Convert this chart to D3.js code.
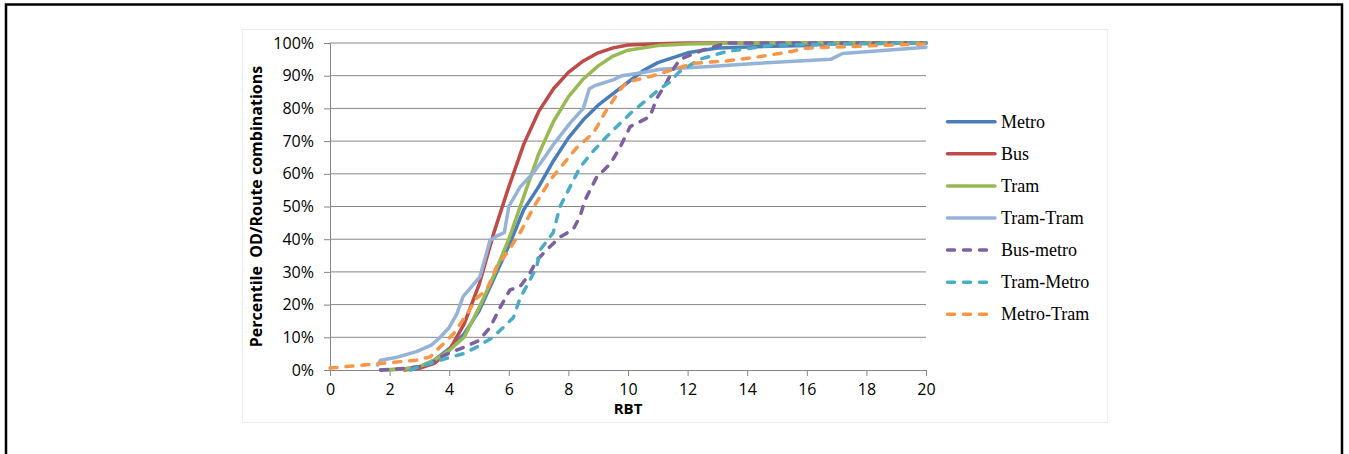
<!DOCTYPE html>
<html>
<head>
<meta charset="utf-8">
<script src="https://cdn.jsdelivr.net/npm/d3@7"></script>
<style>
  body { margin: 0; background: #fff; }
  svg { display: block; }
</style>
</head>
<body>
<div id="chart"></div>
<script>
// series names, in drawing order
const seriesNames = ['Metro', 'Bus', 'Tram', 'Tram-Tram', 'Bus-metro', 'Tram-Metro', 'Metro-Tram'];
const seriesColors = ['#4a7ebb', '#be4b48', '#98b954', '#95b3d7', '#7d60a0', '#4bacc6', '#f79646'];
const seriesDashed = [false, false, false, false, true, true, true];

// [RBT, percentile %]
const metro = [[1.7,0],[2.5,0.3],[3,1],[3.5,3],[4,6.5],[4.5,11],[5,18],[5.5,28],[6,38],[6.5,49],[7,56],[7.5,64],[8,71],[8.5,76.5],[9,81],[9.5,84.5],[10,88],[10.5,91.5],[11,94],[12,97],[13,98.5],[14,98.8],[16,99.2],[17,100],[20,100]];
const bus = [[2.5,0],[3,0.5],[3.5,2],[4,6],[4.5,14],[5,26],[5.5,42],[6,56],[6.5,69],[7,79],[7.5,86],[8,91],[8.5,94.5],[9,97],[9.5,98.5],[10,99.4],[11,99.8],[12,100],[20,100]];
const tram = [[1.9,0],[2.5,0.3],[3,1],[3.5,3],[4,6],[4.5,10],[5,19],[5.5,29],[6,40],[6.5,53],[7,66],[7.5,76],[8,83.5],[8.5,89],[9,93],[9.5,96],[10,97.8],[11,99.2],[12,99.7],[14,100],[20,100]];
const tramTram = [[1.6,1.5],[1.7,3],[2.2,3.8],[2.9,5.6],[3.4,7.6],[3.7,10],[4,13],[4.25,17],[4.47,22.5],[4.8,26],[5.03,28.5],[5.2,34],[5.37,39.7],[5.6,41],[5.85,42],[6,50],[6.38,56],[6.8,60],[7.2,65],[7.5,69],[8.05,75.4],[8.5,80],[8.7,86],[8.9,87],[9.5,88.7],[9.8,90],[10.5,91],[11.1,92],[12.75,92.8],[14.4,93.8],[16.8,95],[17.2,96.8],[20,98.7]];
const busMetro = [[1.7,0],[2.5,0.5],[3,1],[3.4,2],[3.7,4],[4.5,7],[5,9],[5.37,13],[5.7,19],[6.04,24.5],[6.38,25.5],[6.71,29.6],[6.94,33.6],[7.27,36.7],[7.72,40.7],[8.16,43],[8.39,47],[8.56,52],[8.95,59],[9.4,63],[9.73,68],[10.07,74.4],[10.74,77.5],[10.96,83],[11.3,88],[11.52,92],[11.74,95],[12.5,97.8],[13.3,100],[20,100]];
const tramMetro = [[2.7,0],[3,1],[3.36,2],[3.69,3],[4.47,5],[4.92,7],[5.47,10],[5.81,13],[6.15,16],[6.38,22],[6.71,27.5],[6.94,31.6],[7.05,36.7],[7.49,42],[7.72,50],[8.39,62],[8.84,67],[9.28,71.3],[9.62,74.4],[10.2,79.5],[10.63,82.6],[11.07,86],[11.4,88],[11.7,91],[12.4,95],[13.3,97.4],[14.9,99.4],[20,100]];
const metroTram = [[0,0.6],[1.7,2],[2.9,3],[3.36,4],[3.69,7],[4.14,11],[4.59,17],[4.92,22],[5.26,24.5],[5.59,31.6],[5.93,35.7],[6.38,42],[6.85,50],[7.38,58],[7.83,63],[8.28,68],[8.84,72.5],[9.28,79.5],[9.73,85.6],[9.95,88],[10.84,90],[11.63,92.2],[12.2,93.8],[13.3,94.5],[14.4,95.8],[15.5,97.4],[15.9,98.4],[17,98.8],[20,99.7]];
const seriesData = [metro, bus, tram, tramTram, busMetro, tramMetro, metroTram];

const xTicks = [0, 2, 4, 6, 8, 10, 12, 14, 16, 18, 20];
const yTicks = [0, 10, 20, 30, 40, 50, 60, 70, 80, 90, 100];

const width = 1349;
const height = 454;
const margin = { left: 330, right: 423, top: 43, bottom: 84 };

const svg = d3.select('#chart')
    .append('svg')
    .attr('width', width)
    .attr('height', height);

// outer black frame (bottom edge is off the picture)
svg.append('rect')
    .attr('x', 6).attr('y', 4.5)
    .attr('width', 1336).attr('height', 470)
    .attr('fill', 'none')
    .attr('stroke', '#000')
    .attr('stroke-width', 2.5);

// chart area border
svg.append('rect')
    .attr('x', 242.5).attr('y', 29.5)
    .attr('width', 865).attr('height', 393)
    .attr('fill', '#fff')
    .attr('stroke', '#ececec')
    .attr('stroke-width', 1);

const x = d3.scaleLinear().domain([0, 20]).range([margin.left, width - margin.right]);
const y = d3.scaleLinear().domain([0, 100]).range([height - margin.bottom, margin.top]);

const axisColor = '#868686';

// gridlines
svg.append('g')
    .selectAll('line')
    .data(yTicks.filter(d => d > 0))
    .enter()
    .append('line')
    .attr('x1', x(0)).attr('x2', x(20))
    .attr('y1', d => y(d)).attr('y2', d => y(d))
    .attr('stroke', axisColor)
    .attr('stroke-width', 1);

// y axis
const yAxis = svg.append('g')
    .attr('transform', `translate(${x(0)},0)`)
    .call(d3.axisLeft(y).tickValues(yTicks).tickFormat(d => d + '%').tickSize(6).tickPadding(10));
yAxis.select('.domain').attr('stroke', axisColor);
yAxis.selectAll('.tick line').attr('stroke', axisColor);
yAxis.selectAll('.tick text')
    .attr('fill', '#000')
    .style('font-family', '"Open Sans", sans-serif')
    .style('font-size', '16px');

// x axis
const xAxis = svg.append('g')
    .attr('transform', `translate(0,${y(0)})`)
    .call(d3.axisBottom(x).tickValues(xTicks).tickSize(6).tickPadding(8));
xAxis.select('.domain').attr('stroke', axisColor);
xAxis.selectAll('.tick line').attr('stroke', axisColor);
xAxis.selectAll('.tick text')
    .attr('fill', '#000')
    .style('font-family', '"Open Sans", sans-serif')
    .style('font-size', '16px');

// axis titles
svg.append('text')
    .attr('x', (x(0) + x(20)) / 2)
    .attr('y', 414)
    .attr('text-anchor', 'middle')
    .style('font-family', '"Open Sans", sans-serif')
    .style('font-size', '15px')
    .style('font-weight', 'bold')
    .text('RBT');

svg.append('text')
    .attr('transform', `translate(262,${(y(0) + y(100)) / 2}) rotate(-90)`)
    .attr('text-anchor', 'middle')
    .style('font-family', '"Open Sans", sans-serif')
    .style('font-size', '16px')
    .style('font-weight', 'bold')
    .style('white-space', 'pre')
    .text('Percentile  OD/Route combinations');

// series lines
const line = d3.line()
    .x(d => x(d[0]))
    .y(d => y(d[1]))
    .curve(d3.curveLinear);

svg.append('g')
    .selectAll('path')
    .data(seriesData)
    .enter()
    .append('path')
    .attr('d', line)
    .attr('fill', 'none')
    .attr('stroke', (d, i) => seriesColors[i])
    .attr('stroke-width', 3.5)
    .attr('stroke-linejoin', 'round')
    .attr('stroke-linecap', 'round')
    .attr('stroke-dasharray', (d, i) => seriesDashed[i] ? '7,9' : null);

// legend
const legend = svg.append('g')
    .selectAll('g')
    .data(seriesNames)
    .enter()
    .append('g')
    .attr('transform', (d, i) => `translate(946,${121.7 + i * 32.1})`);

legend.append('line')
    .attr('x1', 1.5)
    .attr('x2', (d, i) => seriesDashed[i] ? 43 : 49)
    .attr('y1', 0).attr('y2', 0)
    .attr('stroke', (d, i) => seriesColors[i])
    .attr('stroke-width', 3.5)
    .attr('stroke-linecap', 'round')
    .attr('stroke-dasharray', (d, i) => seriesDashed[i] ? '7,9' : null);

legend.append('text')
    .attr('x', 55)
    .attr('y', 6)
    .style('font-family', '"Liberation Serif", serif')
    .style('font-size', '18px')
    .attr('fill', '#000')
    .text(d => d);
</script>
</body>
</html>
